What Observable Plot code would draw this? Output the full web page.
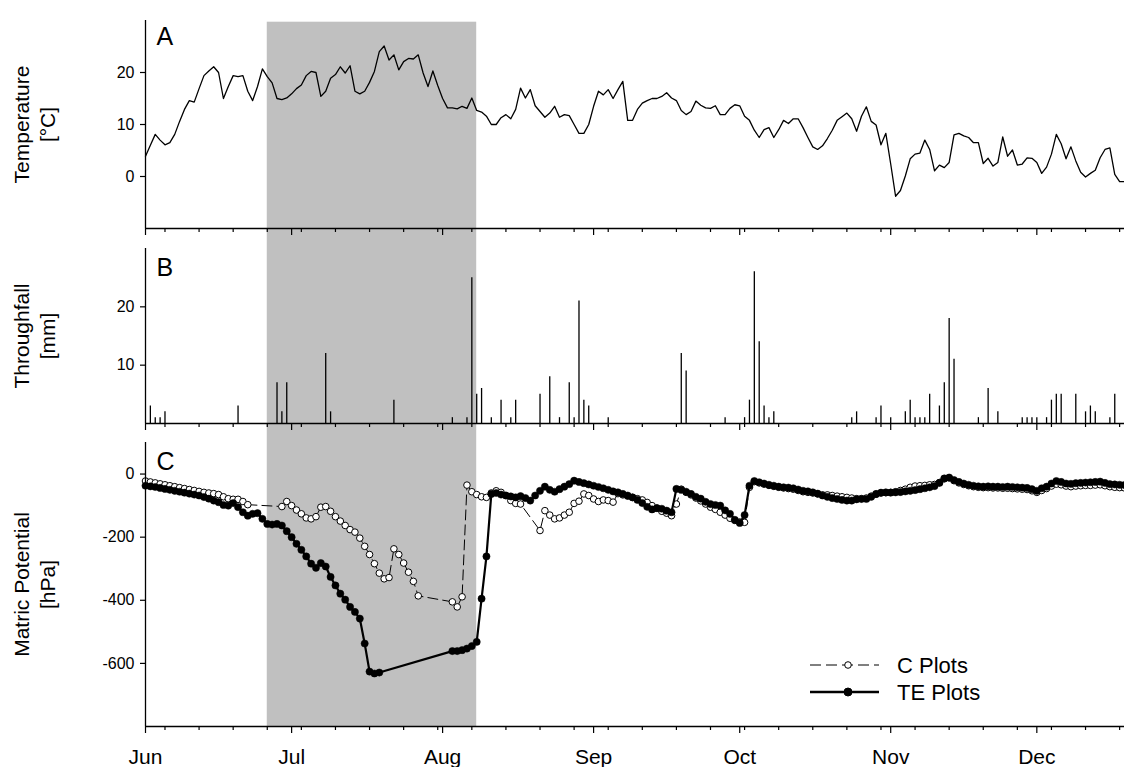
<!DOCTYPE html>
<html><head><meta charset="utf-8">
<script src="https://cdn.jsdelivr.net/npm/d3@7"></script>
<script src="https://cdn.jsdelivr.net/npm/@observablehq/plot@0.6"></script>
<style>
body{margin:0;background:#fff;}
#wrap{position:relative;width:1124px;height:767px;font-family:"Liberation Sans",Arial,sans-serif;}
#wrap svg{position:absolute;left:0;overflow:visible;}
</style></head><body><div id="wrap"></div>
<script>
// ---- data (day index 0 = 1 June) ----
const startDate = "2009-06-01";
const monthStarts = ["2009-06-01","2009-07-01","2009-08-01","2009-09-01","2009-10-01","2009-11-01","2009-12-01"];
const monthLabels = ["Jun","Jul","Aug","Sep","Oct","Nov","Dec"];
const bandStart = "2009-06-26";
const bandEnd = "2009-08-08";

// daily air temperature [°C]
const tempC = [
 3.9, 6.0, 8.1, 7.0, 6.1, 6.5, 8.1, 10.6, 12.9, 14.6,
 14.3, 16.9, 19.4, 20.3, 21.1, 20.0, 15.0, 17.3, 19.4, 19.2,
 19.4, 16.4, 14.6, 17.3, 20.7, 19.2, 18.0, 15.0, 14.8, 15.1,
 15.9, 16.9, 17.6, 19.4, 20.2, 20.0, 15.4, 16.4, 18.9, 19.6,
 21.1, 19.9, 21.3, 16.4, 15.9, 16.4, 18.1, 20.2, 24.0, 25.1,
 22.4, 23.4, 20.5, 22.1, 22.7, 22.6, 23.4, 19.9, 17.3, 20.3,
 17.5, 15.0, 13.2, 13.2, 13.0, 13.5, 13.1, 15.1, 12.7, 12.4,
 11.6, 10.0, 10.0, 11.3, 11.9, 11.1, 12.9, 17.0, 15.1, 16.7,
 13.6, 12.5, 11.4, 12.2, 13.5, 11.4, 11.9, 11.7, 10.0, 8.3,
 8.3, 10.0, 13.5, 16.4, 15.7, 16.7, 15.0, 16.7, 18.3, 10.8,
 10.8, 12.9, 14.1, 14.6, 15.0, 15.0, 15.4, 16.1, 15.1, 14.6,
 12.7, 11.9, 12.5, 14.5, 13.7, 13.2, 13.1, 13.6, 11.9, 11.9,
 13.1, 13.8, 13.6, 11.6, 10.8, 8.9, 7.5, 9.0, 9.4, 7.5,
 9.0, 10.8, 10.2, 11.1, 11.1, 9.4, 7.5, 5.7, 5.2, 5.9,
 7.3, 8.9, 10.8, 11.5, 12.2, 11.1, 8.7, 11.6, 13.4, 10.6,
 9.9, 6.1, 8.3, 2.4, -3.8, -2.7, 0.1, 3.4, 4.3, 4.5,
 7.0, 5.2, 1.1, 2.2, 1.7, 2.7, 8.0, 8.3, 7.8, 7.5,
 6.5, 6.5, 2.5, 3.5, 2.0, 2.7, 7.6, 3.9, 5.1, 2.2,
 2.4, 3.6, 3.5, 2.7, 0.6, 1.8, 4.3, 8.1, 6.3, 3.4,
 5.7, 3.0, 0.8, -0.1, 0.6, 1.2, 3.6, 5.2, 5.5, 0.4,
 -1.0, -1.0
];

// throughfall events
const rainDay = [1,2,3,4,19,27,28,29,37,38,51,63,66,67,68,69,71,73,75,76,81,83,85,87,88,89,90,91,95,110,111,119,123,124,125,126,127,128,129,145,146,150,151,153,156,157,158,159,160,161,163,164,165,166,171,173,175,180,181,182,183,185,186,187,188,191,193,194,195,198,199];
const rainMm  = [3,1,1,2,3,7,2,7,12,2,4,1,1,25,5,6,1,4,1,4,5,8,1,7,1,21,4,3,1,12,9,1,1,4,26,14,3,1,2,1,2,1,3,1,2,4,1,1,1,5,3,7,18,11,1,6,2,1,1,1,1,1,4,5,5,5,2,3,2,1,5];

// matric potential [hPa], daily, null = no measurement
const cHpa = [
 -22, -25, -28, -31, -34, -37, -40, -43, -46, -49,
 -52, -55, -58, -60, -62, -65, -72, -78, -80, -80,
 -87, -97, null, null, null, null, null, null, -103, -87,
 -100, -114, -126, -139, -142, -135, -105, -103, -118, -135,
 -149, -163, -176, -184, -203, -229, -255, -284, -314, -332,
 -328, -237, -255, -282, -311, -340, -386, null, null, null,
 null, null, null, -405, -421, -389, -35, -56, -65, -72,
 -74, -60, -53, -58, -68, -84, -93, -95, null, null,
 null, -179, -116, -130, -142, -139, -130, -121, -93, -86,
 -63, -68, -79, -87, -82, -84, -89, -62, -66, -70,
 -74, -78, -82, -90, -100, -108, -118, -124, -132, -95,
 -48, -58, -66, -76, -85, -95, -105, -112, -121, -130,
 -140, -147, -152, -153, -42, -24, -28, -32, -36, -39,
 -42, -44, -46, -48, -52, -56, -58, -60, -63, -66,
 -66, -68, -70, -72, -74, -76, -78, -78, -76, -70,
 -64, -60, -59, -58, -56, -52, -48, -42, -38, -37,
 -36, -34, -33, -27, -15, -12, -21, -28, -33, -37,
 -40, -42, -43, -43, -44, -44, -45, -45, -46, -47,
 -48, -49, -53, -58, -52, -46, -38, -32, -34, -38,
 -40, -38, -37, -36, -36, -35, -34, -37, -40, -42,
 -43, -44
];
const teHpa = [
 -37, -39, -41, -44, -47, -50, -53, -56, -59, -62,
 -65, -68, -73, -78, -84, -89, -98, -100, -92, -105,
 -121, -132, -126, -124, -142, -158, -160, -158, -163, -181,
 -200, -221, -240, -261, -284, -297, -282, -293, -326, -353,
 -379, -398, -421, -437, -458, -537, -626, -632, -629, null,
 null, null, null, null, null, null, null, null, null, null,
 null, null, null, -561, -561, -558, -553, -545, -532, -395,
 -261, -63, -60, -65, -68, -71, -74, -70, -76, -84,
 -68, -53, -40, -50, -56, -48, -40, -32, -21, -25,
 -29, -33, -37, -41, -45, -50, -55, -58, -63, -68,
 -74, -82, -92, -104, -112, -108, -110, -116, -121, -47,
 -50, -56, -63, -72, -78, -88, -95, -98, -100, -115,
 -126, -145, -155, -130, -37, -22, -26, -30, -34, -37,
 -40, -42, -43, -45, -49, -53, -55, -58, -62, -68,
 -72, -76, -79, -82, -84, -84, -80, -79, -79, -72,
 -63, -59, -58, -59, -58, -57, -55, -53, -51, -48,
 -45, -42, -38, -28, -14, -11, -19, -25, -30, -34,
 -37, -39, -40, -39, -40, -40, -41, -40, -41, -42,
 -43, -44, -48, -53, -45, -40, -30, -22, -25, -30,
 -31, -29, -28, -27, -26, -25, -24, -28, -32, -33,
 -34, -35
];

// ---- helpers ----
const t0 = new Date(startDate).getTime();
const day = d => new Date(t0 + d * 86400000);
const xDomain = [day(0), day(201)];
const font = '"Liberation Sans", Arial, sans-serif';
const W = 1124, ML = 145;

const tempData = tempC.map((t, i) => ({date: day(i), t}));
const rainData = rainDay.map((d, i) => ({date: day(d), mm: rainMm[i]}));
const cData = cHpa.map((v, i) => ({date: day(i), v})).filter(d => d.v != null);
const teData = teHpa.map((v, i) => ({date: day(i), v})).filter(d => d.v != null);
const band = [{s: new Date(bandStart), e: new Date(bandEnd)}];
const monthTicks = monthStarts.map(s => new Date(s));
const minorTicks = d3.range(4, 202, 7).map(day);

const xAxes = () => [
  Plot.axisX({ticks: minorTicks, tickSize: 4, tickFormat: () => "", label: null, strokeWidth: 1.2}),
  Plot.axisX({ticks: monthTicks, tickSize: 7, tickFormat: () => "", label: null, strokeWidth: 1.2})
];
const yAxis = (ticks) => Plot.axisY({ticks, tickSize: 5, tickPadding: 6, fontSize: 16, label: null, strokeWidth: 1.2, tickFormat: d => String(d)});
const bandMark = (insetTop, insetBottom) =>
  Plot.rect(band, {x1: "s", x2: "e", fill: "#c0c0c0", insetTop, insetBottom});
const frameLines = (ymin) => [
  Plot.ruleX([day(0)], {stroke: "#000", strokeWidth: 1.3}),
  Plot.ruleY([ymin], {stroke: "#000", strokeWidth: 1.3})
];
const panelLabel = (s, dy) => Plot.text([s], {text: d => d, frameAnchor: "top-left", dx: 11, dy, fontSize: 25, lineAnchor: "top", textAnchor: "start", fill: "#000"});
const titles = (l1, l2) => [
  Plot.text([l1], {text: d => d, frameAnchor: "left", dx: -123, rotate: -90, fontSize: 21, textAnchor: "middle", lineAnchor: "middle", fill: "#000"}),
  Plot.text([l2], {text: d => d, frameAnchor: "left", dx: -97, rotate: -90, fontSize: 21, textAnchor: "middle", lineAnchor: "middle", fill: "#000"})
];
const common = {
  width: W, marginLeft: ML, marginRight: 0,
  x: {type: "utc", domain: xDomain},
  style: {fontFamily: font, color: "#000", background: "transparent", overflow: "visible"}
};

const wrap = document.getElementById("wrap");

// Panel A
const pA = Plot.plot({
  ...common, height: 238, marginTop: 20, marginBottom: 10,
  y: {domain: [-10, 30]},
  marks: [
    bandMark(1.7, -10),
    Plot.line(tempData, {x: "date", y: "t", stroke: "#000", strokeWidth: 1.3}),
    ...frameLines(-10),
    yAxis([0, 10, 20]),
    ...xAxes(),
    panelLabel("A", 7),
    ...titles("Temperature", "[°C]")
  ]
});
pA.style.top = "0px";
wrap.appendChild(pA);

// Panel B
const pB = Plot.plot({
  ...common, height: 194, marginTop: 10, marginBottom: 9,
  y: {domain: [0, 30]},
  marks: [
    bandMark(-10, -9),
    Plot.ruleX(rainData, {x: "date", y1: 0, y2: "mm", stroke: "#000", strokeWidth: 1.3}),
    ...frameLines(0),
    yAxis([10, 20]),
    ...xAxes(),
    panelLabel("B", 10),
    ...titles("Throughfall", "[mm]")
  ]
});
pB.style.top = "238px";
wrap.appendChild(pB);

// Panel C
const pC = Plot.plot({
  ...common, height: 335, marginTop: 10, marginBottom: 41,
  y: {domain: [-800, 100]},
  marks: [
    bandMark(-10, 0),
    Plot.line(cData, {x: "date", y: "v", stroke: "#000", strokeWidth: 1, strokeDasharray: "10,5"}),
    Plot.dot(cData, {x: "date", y: "v", r: 3.3, fill: "#fff", stroke: "#000", strokeWidth: 1}),
    Plot.line(teData, {x: "date", y: "v", stroke: "#000", strokeWidth: 2.2}),
    Plot.dot(teData, {x: "date", y: "v", r: 3.6, fill: "#000", stroke: "#000", strokeWidth: 0.5}),
    ...frameLines(-800),
    yAxis([0, -200, -400, -600]),
    ...xAxes(),
    Plot.axisX({ticks: monthTicks, tickSize: 0, tickPadding: 23, fontSize: 21, label: null,
      tickFormat: d => monthLabels[d.getUTCMonth() - 5]}),
    panelLabel("C", 10),
    ...titles("Matric Potential", "[hPa]")
  ]
});
pC.style.top = "432px";
wrap.appendChild(pC);

// Legend (overlay)
const leg = d3.select(wrap).append("svg")
  .attr("width", W).attr("height", 767)
  .style("top", "0px").style("pointer-events", "none")
  .style("font-family", font);
const items = [
  {label: "C Plots", y: 665, dash: "11,5", w: 1, fill: "#fff", r: 3.3},
  {label: "TE Plots", y: 692, dash: null, w: 2.6, fill: "#000", r: 4}
];
items.forEach(it => {
  leg.append("line").attr("x1", 810).attr("x2", 879).attr("y1", it.y).attr("y2", it.y)
    .attr("stroke", "#000").attr("stroke-width", it.w).attr("stroke-dasharray", it.dash);
  leg.append("circle").attr("cx", 848).attr("cy", it.y).attr("r", it.r)
    .attr("fill", it.fill).attr("stroke", "#000").attr("stroke-width", 1);
  leg.append("text").attr("x", 897).attr("y", it.y).attr("dy", "0.35em")
    .attr("font-size", 22).attr("fill", "#000").text(it.label);
});
</script></body></html>
